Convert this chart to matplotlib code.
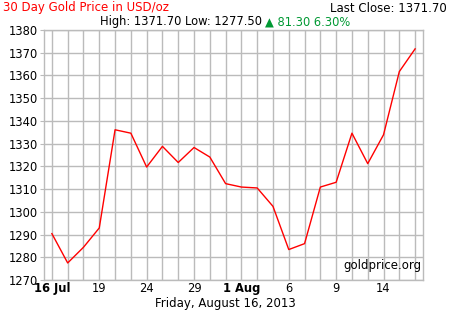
import matplotlib.pyplot as plt

# trading days 16 Jul .. 16 Aug 2013
prices = [1290.4, 1277.5, 1284.4, 1292.9, 1336.1, 1334.6, 1319.7, 1328.8,
          1321.7, 1328.3, 1324.1, 1312.4, 1310.9, 1310.5, 1302.4, 1283.4,
          1286.0, 1310.9, 1313.0, 1334.6, 1321.2, 1333.9, 1361.7, 1371.7]
tick_pos = [0, 3, 6, 9, 12, 15, 18, 21]
tick_labels = ['16 Jul', '19', '24', '29', '1 Aug', '6', '9', '14']
bold_labels = ['16 Jul', '1 Aug']
y_ticks = [1270, 1280, 1290, 1300, 1310, 1320, 1330, 1340, 1350, 1360, 1370, 1380]

grid_col = '#bbbbbb'
fs = 8.3

fig = plt.figure(figsize=(4.5, 3.11), dpi=100)
W, H = 450, 311
ax = fig.add_axes([44 / W, 1 - 280 / H, (423 - 44) / W, (280 - 30) / H])

x = list(range(len(prices)))
ax.plot(x, prices, color='#ff0000', lw=1.0, zorder=3)

ax.set_xlim(-0.5, len(prices) - 0.5)
ax.set_ylim(1270, 1380)
ax.set_yticks(y_ticks)
ax.set_xticks(x, minor=True)
ax.set_xticks(tick_pos)
ax.set_xticklabels(tick_labels)
for lab in ax.get_xticklabels():
    if lab.get_text() in bold_labels:
        lab.set_fontweight('bold')

ax.grid(True, which='both', axis='x', color=grid_col, lw=1)
ax.grid(True, which='major', axis='y', color=grid_col, lw=1)
ax.tick_params(axis='y', length=3, color=grid_col, labelsize=fs, pad=1.5)
ax.tick_params(axis='x', which='both', length=0, labelsize=fs, pad=1.5)
for s in ax.spines.values():
    s.set_color(grid_col)
    s.set_linewidth(1)

# header texts
fig.text(3 / W, 1 - 8 / H, '30 Day Gold Price in USD/oz', color='#ff0000',
         fontsize=fs + 0.2, ha='left', va='center')
fig.text(447 / W, 1 - 8 / H, 'Last Close: 1371.70', color='black',
         fontsize=fs + 0.2, ha='right', va='center')
fig.text(100 / W, 1 - 22 / H, 'High: 1371.70 Low: 1277.50', color='black',
         fontsize=fs, ha='left', va='center')
fig.text(265 / W, 1 - 22 / H, '\u25b2 81.30 6.30%', color='#009933',
         fontsize=fs, ha='left', va='center')

ax.text(0.995, 0.03, 'goldprice.org', transform=ax.transAxes,
        fontsize=fs + 0.2, ha='right', va='bottom')
fig.text(0.5, 1 - 304 / H, 'Friday, August 16, 2013', fontsize=fs + 0.2,
         ha='center', va='center')

fig.savefig('out.png', dpi=100)
